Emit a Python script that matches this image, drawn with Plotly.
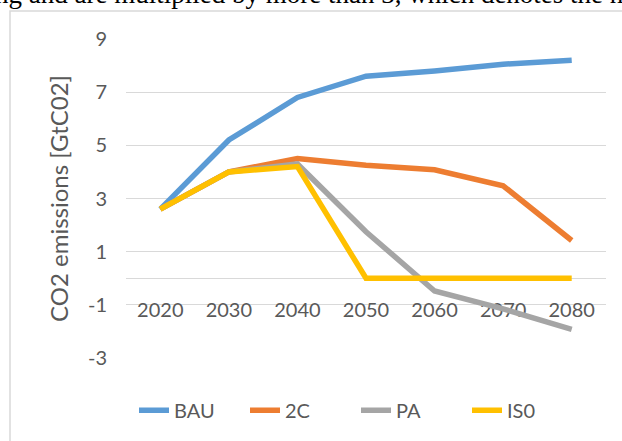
import plotly.graph_objects as go

# ---- data ----
years = [2020, 2030, 2040, 2050, 2060, 2070, 2080]
year_labels = ["2020", "2030", "2040", "2050", "2060", "2070", "2080"]
bau = [2.6, 5.2, 6.8, 7.6, 7.8, 8.05, 8.2]
c2 = [2.6, 4.0, 4.5, 4.25, 4.08, 3.48, 1.42]
pa = [2.6, 4.0, 4.3, 1.75, -0.48, -1.15, -1.92]
is0 = [2.6, 4.0, 4.2, 0.0, 0.0, 0.0, 0.0]
series_names = ["BAU", "2C", "PA", "IS0"]
y_ticks = [-3, -1, 1, 3, 5, 7, 9]
y_tick_labels = ["-3", "-1", "1", "3", "5", "7", "9"]
y_title = "CO2 emissions [GtC02]"
top_text = "ng and are multiplied by more than 3, which denotes the n"

colors = ["#5B9BD5", "#ED7D31", "#A5A5A5", "#FFC000"]
FONT = "Lato"
TXT = "#595959"

fig = go.Figure()
for name, vals, col in zip(series_names, [bau, c2, pa, is0], colors):
    fig.add_trace(go.Scatter(x=years, y=vals, name=name, mode="lines",
                             line=dict(color=col, width=5.5)))

fig.update_layout(
    width=622, height=441,
    margin=dict(l=126, r=16, t=39, b=82),
    paper_bgcolor="white", plot_bgcolor="white",
    font=dict(family=FONT, size=20, color=TXT),
    showlegend=True,
    legend=dict(orientation="h", x=(134 - 126) / 480, xanchor="left", y=-0.16, yanchor="middle",
                font=dict(family=FONT, size=20, color=TXT), itemwidth=30,
                entrywidth=66, entrywidthmode="pixels",
                bgcolor="rgba(0,0,0,0)"),
    xaxis=dict(range=[2015, 2085], tickvals=years, ticktext=year_labels,
               showgrid=False, zeroline=False, anchor="free", position=0.25,
               showline=True, linecolor="#D9D9D9", linewidth=1.3,
               layer="below traces",
               ticks="", ticklabelstandoff=14,
               tickfont=dict(family=FONT, size=20, color=TXT)),
    yaxis=dict(range=[-3, 9], tickvals=y_ticks, ticktext=y_tick_labels,
               showgrid=True, gridcolor="#D9D9D9", layer="below traces",
               gridwidth=1.3, zeroline=False, showline=False, ticks="",
               ticklabelstandoff=18,
               tickfont=dict(family=FONT, size=20, color=TXT),
               title=dict(text=y_title, font=dict(family=FONT, size=24, color=TXT),
                          standoff=12)),
    shapes=[dict(type="rect", xref="paper", yref="paper",
                 x0=(10 - 126) / 480, x1=2.0, y0=-1.0, y1=(359 - 11) / 320,
                 line=dict(color="#D9D9D9", width=1.5), layer="below")],
    annotations=[dict(text=top_text, xref="paper", yref="paper",
                      x=(-7 - 126) / 480, xanchor="left",
                      y=(359 - 11) / 320, yanchor="bottom", showarrow=False,
                      font=dict(family="Liberation Serif", size=27, color="black"))],
)

fig.write_html("out.html", config={"displayModeBar": False},
               post_script="document.body.style.margin='0';")
